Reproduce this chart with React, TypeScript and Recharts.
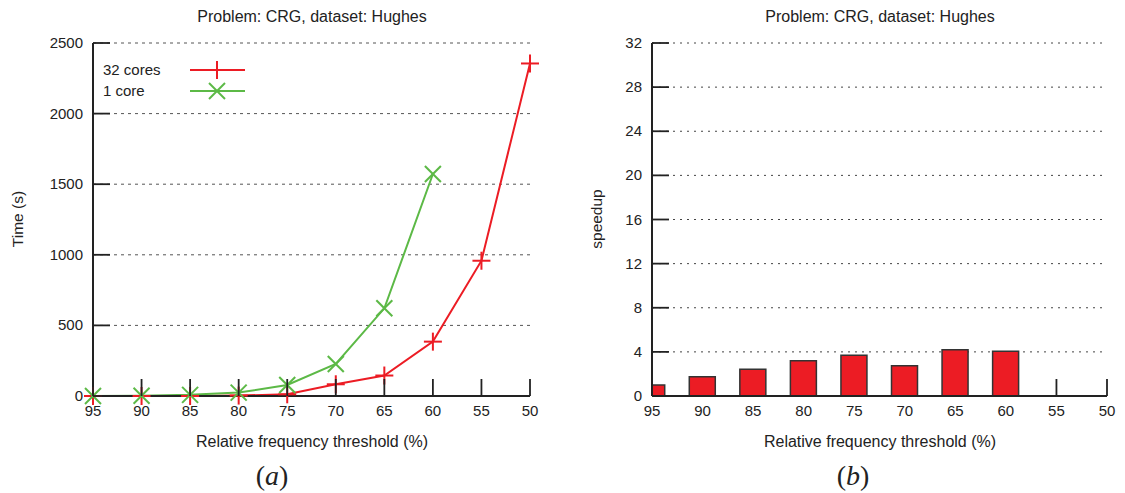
import React from 'react'
import { LineChart, Line, BarChart, Bar, XAxis, YAxis, CartesianGrid } from 'recharts'

const thresholds = [95, 90, 85, 80, 75, 70, 65, 60, 55, 50]
const time32 = [0, 0, 0, 3, 12, 83, 145, 385, 958, 2355]
const time1 = [0, 2, 8, 24, 78, 227, 621, 1572]
const speedup = [1.0, 1.75, 2.43, 3.2, 3.7, 2.74, 4.2, 4.05]
const timeTicks = [0, 500, 1000, 1500, 2000, 2500]
const speedTicks = [0, 4, 8, 12, 16, 20, 24, 28, 32]

const TITLE = 'Problem: CRG, dataset: Hughes'
const XLABEL = 'Relative frequency threshold (%)'
const RED = '#ec1c24'
const GREEN = '#5cb946'
const AXIS = '#222'
const FONT = '"Liberation Sans", Arial, sans-serif'
const TICK_LEN = 17

const lineData = thresholds.map((t, i) => ({ t, c32: time32[i], c1: time1[i] }))
const barData = speedup.map((s, i) => ({ t: thresholds[i], s }))
// thresholds that carry a bar: the bar hides the tick mark there
const barThresholds = barData.map((d) => d.t)

const XTick = (props: any) => {
  const { x, y, payload, hidden } = props
  const showLine = !(hidden && hidden.includes(payload.value))
  return (
    <g>
      {showLine && <line x1={x} x2={x} y1={y} y2={y - TICK_LEN} stroke={AXIS} strokeWidth={1.8} />}
      <text x={x} y={y + 20} textAnchor="middle" fontSize={15} fill={AXIS} fontFamily={FONT}>{payload.value}</text>
    </g>
  )
}

const YTick = (props: any) => {
  const { x, y, payload } = props
  return (
    <g>
      <line x1={x} x2={x + TICK_LEN} y1={y} y2={y} stroke={AXIS} strokeWidth={1.8} />
      <text x={x - 10} y={y + 5} textAnchor="end" fontSize={15} fill={AXIS} fontFamily={FONT}>{payload.value}</text>
    </g>
  )
}

const Plus = ({ cx, cy, color }: { cx: number; cy: number; color: string }) => (
  <g stroke={color} strokeWidth={2}>
    <line x1={cx - 9} x2={cx + 9} y1={cy} y2={cy} />
    <line x1={cx} x2={cx} y1={cy - 9} y2={cy + 9} />
  </g>
)

const Cross = ({ cx, cy, color }: { cx: number; cy: number; color: string }) => (
  <g stroke={color} strokeWidth={2}>
    <line x1={cx - 8} x2={cx + 8} y1={cy - 8} y2={cy + 8} />
    <line x1={cx - 8} x2={cx + 8} y1={cy + 8} y2={cy - 8} />
  </g>
)

const renderPlus = (p: any) =>
  p.cx == null || p.cy == null ? <g key={p.key} /> : <Plus key={p.key} cx={p.cx} cy={p.cy} color={RED} />
const renderCross = (p: any) =>
  p.cx == null || p.cy == null ? <g key={p.key} /> : <Cross key={p.key} cx={p.cx} cy={p.cy} color={GREEN} />

const LegendBox = () => (
  <svg width={160} height={50} style={{ position: 'absolute', left: 103, top: 58 }}>
    <text x={0} y={17} fontSize={15} fill={AXIS} fontFamily={FONT}>32 cores</text>
    <line x1={87} x2={142} y1={12} y2={12} stroke={RED} strokeWidth={2} />
    <Plus cx={114} cy={12} color={RED} />
    <text x={0} y={38} fontSize={15} fill={AXIS} fontFamily={FONT}>1 core</text>
    <line x1={87} x2={142} y1={33} y2={33} stroke={GREEN} strokeWidth={2} />
    <Cross cx={114} cy={33} color={GREEN} />
  </svg>
)

const Txt = ({ x, y, size = 16, rotate = false, children, style }: any) => (
  <div
    style={{
      position: 'absolute',
      left: x,
      top: y,
      transform: `translate(-50%, -50%)${rotate ? ' rotate(-90deg)' : ''}`,
      whiteSpace: 'nowrap',
      fontSize: size,
      color: AXIS,
      lineHeight: 1,
      ...style,
    }}
  >
    {children}
  </div>
)

const App = () => (
  <div style={{ position: 'absolute', left: 0, top: 0, width: 1125, height: 493, background: '#fff', fontFamily: FONT }}>
    <div style={{ position: 'absolute', left: 0, top: 0 }}>
      <LineChart width={560} height={493} data={lineData} margin={{ top: 43, right: 30, bottom: 0, left: 0 }}>
        <CartesianGrid horizontal vertical={false} stroke="#555" strokeDasharray="3 4" />
        <XAxis
          dataKey="t"
          type="number"
          domain={[50, 95]}
          reversed
          ticks={thresholds}
          interval={0}
          height={97}
          tickSize={0}
          tickMargin={0}
          tickLine={false}
          axisLine={{ stroke: AXIS, strokeWidth: 2 }}
          tick={<XTick />}
        />
        <YAxis
          type="number"
          domain={[0, 2500]}
          ticks={timeTicks}
          interval={0}
          width={93}
          tickSize={0}
          tickMargin={0}
          tickLine={false}
          axisLine={{ stroke: AXIS, strokeWidth: 2 }}
          tick={<YTick />}
        />
        <Line dataKey="c32" stroke={RED} strokeWidth={2} dot={renderPlus} isAnimationActive={false} />
        <Line dataKey="c1" stroke={GREEN} strokeWidth={2} dot={renderCross} isAnimationActive={false} />
      </LineChart>
      <LegendBox />
    </div>

    <div style={{ position: 'absolute', left: 560, top: 0 }}>
      <BarChart width={565} height={493} data={barData} margin={{ top: 43, right: 18, bottom: 0, left: 0 }}>
        <CartesianGrid horizontal vertical={false} stroke="#444" strokeDasharray="2 5" />
        <XAxis
          dataKey="t"
          type="number"
          domain={[50, 95]}
          allowDataOverflow
          reversed
          ticks={thresholds}
          interval={0}
          height={97}
          tickSize={0}
          tickMargin={0}
          tickLine={false}
          axisLine={{ stroke: AXIS, strokeWidth: 2 }}
          tick={<XTick hidden={barThresholds} />}
        />
        <YAxis
          type="number"
          domain={[0, 32]}
          ticks={speedTicks}
          interval={0}
          width={92}
          tickSize={0}
          tickMargin={0}
          tickLine={false}
          axisLine={{ stroke: AXIS, strokeWidth: 2 }}
          tick={<YTick />}
        />
        <Bar dataKey="s" fill={RED} stroke="#333" strokeWidth={1.5} barSize={26} isAnimationActive={false} />
      </BarChart>
    </div>

    <Txt x={312} y={17}>{TITLE}</Txt>
    <Txt x={880} y={17}>{TITLE}</Txt>
    <Txt x={18} y={219} size={15.5} rotate>Time (s)</Txt>
    <Txt x={597} y={219} size={15.5} rotate>speedup</Txt>
    <Txt x={312} y={442}>{XLABEL}</Txt>
    <Txt x={880} y={442}>{XLABEL}</Txt>
    <Txt x={272} y={476} size={28} style={{ fontFamily: '"Liberation Serif", serif' }}>
      (<i>a</i>)
    </Txt>
    <Txt x={853} y={476} size={28} style={{ fontFamily: '"Liberation Serif", serif' }}>
      (<i>b</i>)
    </Txt>
  </div>
)

export default App
